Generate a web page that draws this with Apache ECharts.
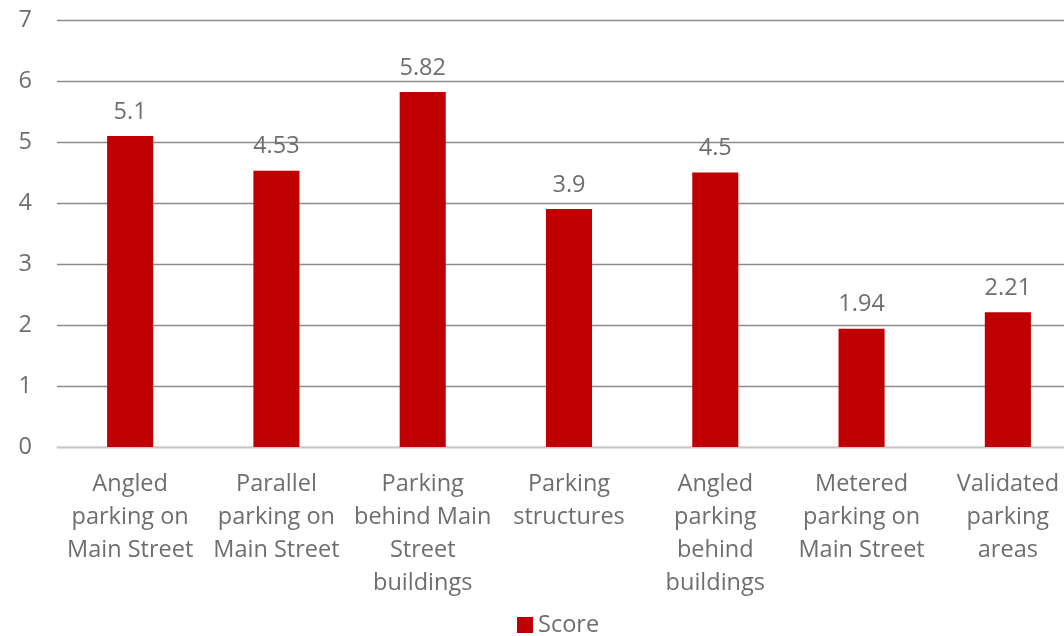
<!DOCTYPE html>
<html>
<head>
<meta charset="utf-8">
<style>
  html, body { margin: 0; padding: 0; background: #ffffff; }
  #chart { width: 1064px; height: 636px; }
</style>
<script src="https://cdn.jsdelivr.net/npm/echarts@6/dist/echarts.min.js"></script>
</head>
<body>
<div id="chart"></div>
<script>
// Parking option scores
const categories = [
  "Angled\nparking on\nMain Street",
  "Parallel\nparking on\nMain Street",
  "Parking\nbehind Main\nStreet\nbuildings",
  "Parking\nstructures",
  "Angled\nparking\nbehind\nbuildings",
  "Metered\nparking on\nMain Street",
  "Validated\nparking\nareas"
];
const scores = [5.1, 4.53, 5.82, 3.9, 4.5, 1.94, 2.21];
const seriesName = "Score";
const yTicks = { min: 0, max: 7, interval: 1 };

const FONT = "'Open Sans', 'Noto Sans', sans-serif";
const TEXT = "#6e6e6e";
const FS = 23.5;

const chart = echarts.init(document.getElementById("chart"), null, { renderer: "canvas" });
chart.setOption({
  animation: false,
  textStyle: { fontFamily: FONT },
  // the plot runs a little past the right edge of the canvas
  grid: {
    left: 57, width: 1024, top: 20, height: 427,
    containLabel: false,
    outerBoundsMode: "none"
  },
  legend: {
    data: [seriesName],
    top: 608,
    left: 512,
    itemWidth: 16,
    itemHeight: 16,
    itemGap: 6,
    icon: "rect",
    textStyle: { fontFamily: FONT, fontSize: FS, color: TEXT }
  },
  xAxis: {
    type: "category",
    data: categories,
    axisLine: { show: true, lineStyle: { color: "#d9d9d9", width: 1.5 } },
    axisTick: { show: false },
    axisLabel: {
      interval: 0,
      margin: 21,
      fontFamily: FONT,
      fontSize: FS,
      lineHeight: 33,
      color: TEXT,
      align: "center"
    }
  },
  yAxis: {
    type: "value",
    min: yTicks.min,
    max: yTicks.max,
    interval: yTicks.interval,
    axisLine: { show: false },
    axisTick: { show: false },
    splitLine: { lineStyle: { color: "#8c8c8c", width: 1.3 } },
    axisLabel: { margin: 25, fontFamily: FONT, fontSize: FS, color: TEXT }
  },
  series: [{
    name: seriesName,
    type: "bar",
    data: scores,
    barWidth: "31.5%",
    itemStyle: { color: "#c00000" },
    label: {
      show: true,
      position: "top",
      distance: 12,
      fontFamily: FONT,
      fontSize: FS,
      color: TEXT
    }
  }]
});
</script>
</body>
</html>
